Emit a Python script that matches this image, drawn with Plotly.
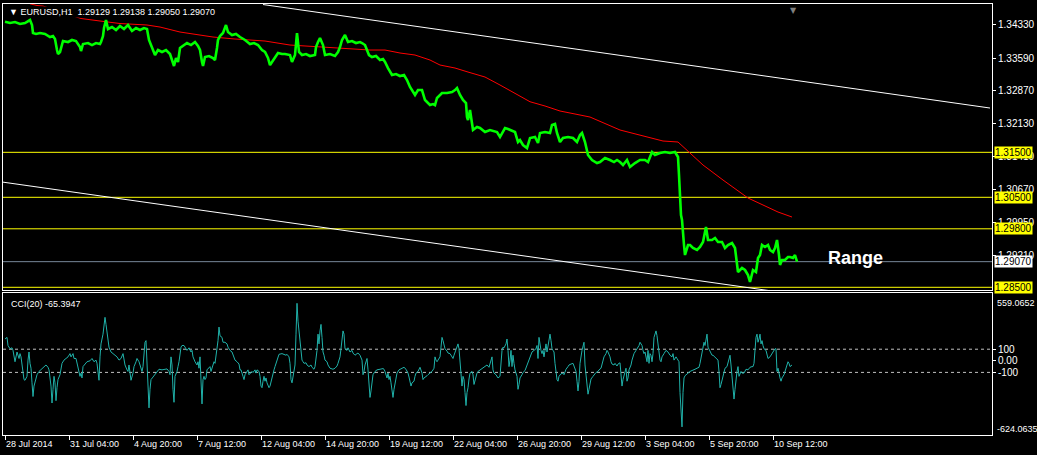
import plotly.graph_objects as go

FONT = "Liberation Sans"

# ---------------- data (bar index = hourly bar number from 28 Jul 2014) ----------------
price_bars = [0, 5, 10, 15, 20, 23, 25, 27, 28, 31, 35, 40, 45, 48, 50, 52, 53, 55, 57, 58, 63, 67, 71, 75, 76, 78,
              83, 87, 91, 95, 96, 98, 99, 101, 103, 107, 111, 115, 119, 123, 127, 131, 135, 139, 142, 144, 146, 148,
              150, 153, 157, 161, 165, 167, 169, 171, 173, 175, 178, 182, 186, 190, 193, 195, 197, 198, 200, 204, 208,
              210, 212, 213, 215, 218, 221, 223, 227, 231, 235, 240, 245, 249, 253, 257, 260, 263, 265, 268, 270, 273,
              277, 280, 285, 287, 290, 292, 294, 297, 301, 305, 310, 311, 313, 315, 318, 320, 325, 330, 333, 335, 337,
              340, 343, 347, 351, 355, 357, 360, 364, 367, 371, 375, 378, 380, 383, 385, 387, 391, 395, 399, 402, 405,
              408, 410, 413, 417, 420, 423, 425, 428, 430, 432, 435, 437, 442, 447, 450, 452, 455, 458, 461, 462, 463,
              465, 468, 472, 475, 480, 485, 489, 492, 495, 498, 500, 503, 505, 508, 510, 513, 515, 518, 522, 525, 528,
              530, 533, 535, 540, 545, 547, 550, 552, 555, 558, 563, 568, 572, 575, 577, 580, 583, 587, 592, 595, 600,
              605, 609, 612, 615, 618, 622, 625, 630, 635, 640, 643, 647, 650, 655, 660, 665, 670, 673, 674, 675, 676,
              677, 678, 679, 680, 683, 685, 688, 692, 695, 698, 700, 701, 703, 707, 710, 713, 717, 720, 723, 727, 730,
              732, 733, 735, 737, 740, 743, 745, 746, 748, 751, 753, 755, 757, 760, 763, 765, 768, 770, 772, 774, 775,
              777, 780, 783, 785, 788, 790, 792]
price_close = [1.34402, 1.34373, 1.34396, 1.34351, 1.34373, 1.34418, 1.34440, 1.34329, 1.34151, 1.34129, 1.34151,
               1.34129, 1.34062, 1.34084, 1.34018, 1.33773, 1.33684, 1.33729, 1.33884, 1.33973, 1.33951, 1.33996,
               1.33973, 1.33840, 1.33751, 1.33907, 1.33929, 1.33884, 1.33929, 1.33907, 1.33951, 1.34084, 1.34262,
               1.34440, 1.34240, 1.34284, 1.34218, 1.34307, 1.34240, 1.34329, 1.34196, 1.34262, 1.34218, 1.34262,
               1.34240, 1.33996, 1.33884, 1.33773, 1.33662, 1.33773, 1.33729, 1.33773, 1.33684, 1.33551, 1.33418,
               1.33596, 1.33507, 1.33818, 1.33862, 1.33929, 1.33884, 1.33951, 1.33862, 1.33773, 1.33507, 1.33418,
               1.33618, 1.33640, 1.33596, 1.33551, 1.33818, 1.33996, 1.34084, 1.34151, 1.34329, 1.34173, 1.34107,
               1.34129, 1.34062, 1.33996, 1.33907, 1.33929, 1.33884, 1.33773, 1.33729, 1.33596, 1.33440, 1.33551,
               1.33596, 1.33707, 1.33684, 1.33684, 1.33662, 1.33507, 1.33662, 1.34151, 1.33729, 1.33662, 1.33684,
               1.33640, 1.33662, 1.33840, 1.33951, 1.34040, 1.33884, 1.33662, 1.33684, 1.33640, 1.33729, 1.33840,
               1.33996, 1.34107, 1.33951, 1.33973, 1.33929, 1.33951, 1.33929, 1.33884, 1.33662, 1.33618, 1.33640,
               1.33551, 1.33573, 1.33507, 1.33373, 1.33284, 1.33218, 1.33240, 1.33196, 1.33218, 1.33107, 1.32951,
               1.32840, 1.32773, 1.32884, 1.32884, 1.32662, 1.32596, 1.32551, 1.32573, 1.32551, 1.32707, 1.32773,
               1.32818, 1.32818, 1.32840, 1.32884, 1.32929, 1.32773, 1.32662, 1.32596, 1.32284, 1.32218, 1.32440,
               1.31996, 1.32062, 1.32040, 1.31951, 1.31996, 1.31973, 1.31951, 1.31840, 1.31951, 1.32040, 1.32018,
               1.31996, 1.31973, 1.31951, 1.31729, 1.31773, 1.31662, 1.31596, 1.31818, 1.31840, 1.31840, 1.31707,
               1.31929, 1.31951, 1.31929, 1.32107, 1.32129, 1.31929, 1.31729, 1.31818, 1.31840, 1.31818, 1.31729,
               1.31884, 1.31929, 1.31729, 1.31440, 1.31329, 1.31262, 1.31284, 1.31373, 1.31329, 1.31284, 1.31329,
               1.31284, 1.31218, 1.31329, 1.31173, 1.31262, 1.31329, 1.31329, 1.31284, 1.31507, 1.31440, 1.31484,
               1.31507, 1.31484, 1.31507, 1.31396, 1.30996, 1.30440, 1.30107, 1.29996, 1.29596, 1.29440, 1.29218,
               1.29440, 1.29440, 1.29373, 1.29329, 1.29396, 1.29507, 1.29729, 1.29840, 1.29551, 1.29551, 1.29596,
               1.29507, 1.29507, 1.29373, 1.29440, 1.29484, 1.29373, 1.28996, 1.28840, 1.28884, 1.28929, 1.28884,
               1.28773, 1.28618, 1.28707, 1.28884, 1.28840, 1.29151, 1.29218, 1.29440, 1.29396, 1.29440, 1.29329,
               1.29284, 1.29373, 1.29551, 1.29218, 1.28996, 1.29107, 1.29107, 1.29173, 1.29173, 1.29151, 1.29218,
               1.29070]

ma_bars = [25, 32, 38, 76, 95, 115, 142, 155, 175, 195, 208, 230, 260, 285, 315, 340, 365, 380, 395, 410, 425, 435,
           450, 463, 480, 495, 510, 525, 540, 555, 575, 585, 615, 635, 658, 673, 685, 698, 718, 732, 743, 758, 773, 787]
ma_values = [1.34800, 1.34762, 1.34751, 1.34473, 1.34418, 1.34362, 1.34329, 1.34284, 1.34173, 1.34107, 1.34062,
             1.34018, 1.33973, 1.33884, 1.33840, 1.33818, 1.33773, 1.33773, 1.33707, 1.33662, 1.33551, 1.33440,
             1.33373, 1.33284, 1.33173, 1.32996, 1.32818, 1.32624, 1.32529, 1.32418, 1.32329, 1.32284, 1.31996,
             1.31884, 1.31751, 1.31729, 1.31484, 1.31218, 1.30884, 1.30662, 1.30484, 1.30329, 1.30173, 1.30062]

cci_bars = [0, 2, 3, 5, 7, 8, 10, 11, 12, 14, 15, 16, 17, 18, 19, 20, 22, 23, 24, 25, 26, 27, 28, 29, 30, 32, 34, 36,
            38, 41, 43, 44, 46, 47, 48, 49, 50, 51, 52, 53, 55, 56, 57, 59, 61, 63, 65, 66, 68, 69, 71, 72, 74, 75, 76,
            77, 78, 80, 82, 85, 87, 89, 91, 92, 93, 94, 95, 96, 98, 99, 100, 101, 102, 104, 106, 108, 110, 112, 114,
            116, 118, 119, 120, 122, 123, 124, 125, 126, 128, 129, 131, 132, 134, 135, 137, 138, 140, 141, 142, 143,
            144, 145, 146, 148, 150, 152, 154, 157, 159, 162, 164, 165, 166, 167, 168, 169, 170, 172, 173, 174, 176,
            177, 179, 181, 182, 184, 186, 187, 188, 190, 192, 193, 194, 195, 196, 197, 198, 199, 200, 201, 202, 204,
            205, 206, 208, 209, 210, 212, 213, 214, 215, 217, 218, 220, 222, 223, 225, 227, 228, 230, 232, 234, 235,
            236, 238, 239, 240, 242, 243, 244, 246, 247, 248, 250, 251, 252, 254, 255, 256, 257, 258, 259, 260, 261,
            262, 264, 265, 266, 268, 269, 270, 272, 273, 274, 277, 279, 281, 282, 284, 285, 286, 287, 288, 290, 291,
            292, 293, 294, 295, 296, 297, 298, 299, 301, 302, 304, 306, 307, 309, 310, 312, 313, 314, 315, 316, 317,
            318, 319, 320, 322, 323, 325, 327, 328, 330, 332, 333, 335, 336, 337, 338, 339, 340, 342, 343, 345, 347,
            348, 350, 352, 353, 355, 357, 358, 359, 360, 362, 363, 364, 365, 366, 367, 368, 370, 372, 375, 378, 379,
            380, 382, 383, 384, 385, 386, 387, 388, 389, 390, 391, 392, 394, 395, 397, 399, 401, 403, 404, 406, 407,
            409, 410, 411, 413, 414, 415, 417, 418, 419, 421, 422, 423, 425, 427, 429, 430, 431, 432, 433, 435, 436,
            437, 438, 439, 440, 442, 443, 445, 447, 448, 449, 451, 452, 453, 454, 455, 456, 457, 458, 459, 460, 461,
            462, 463, 464, 465, 467, 468, 469, 470, 472, 473, 475, 477, 479, 482, 484, 486, 487, 488, 489, 491, 493,
            495, 496, 497, 498, 499, 501, 502, 503, 504, 505, 506, 507, 508, 509, 510, 512, 513, 514, 515, 517, 518,
            520, 522, 524, 526, 527, 529, 531, 532, 533, 534, 535, 536, 537, 538, 539, 540, 541, 542, 544, 545, 546,
            547, 548, 549, 550, 551, 552, 553, 554, 556, 558, 559, 561, 563, 564, 566, 568, 569, 571, 572, 573, 574,
            575, 577, 578, 579, 580, 581, 582, 583, 584, 585, 586, 588, 589, 591, 593, 594, 596, 598, 599, 601, 602,
            603, 605, 606, 607, 609, 610, 612, 613, 615, 617, 618, 619, 620, 621, 622, 623, 624, 626, 627, 629, 631,
            632, 634, 635, 637, 638, 639, 640, 642, 643, 644, 645, 646, 647, 648, 649, 650, 651, 652, 653, 654, 655,
            656, 657, 659, 660, 661, 663, 664, 665, 667, 668, 669, 671, 672, 673, 674, 675, 676, 677, 678, 679, 680,
            682, 683, 685, 687, 688, 690, 692, 694, 695, 696, 697, 698, 699, 700, 701, 702, 703, 705, 707, 708, 710,
            711, 713, 714, 715, 716, 717, 719, 720, 722, 723, 724, 725, 726, 727, 728, 729, 730, 731, 732, 733, 734,
            736, 737, 739, 740, 741, 743, 744, 745, 747, 748, 749, 750, 751, 752, 753, 754, 755, 756, 757, 758, 759,
            761, 762, 763, 765, 766, 768, 769, 770, 771, 772, 773, 774, 775, 776, 777, 779, 780, 781, 782, 783, 784,
            785, 787]
cci_values = [188, 202, 132, 104, 112, 90, -8, 48, 76, 20, 62, 34, -36, -120, -162, -168, -134, 6, 76, -22, -64, -190,
              -308, -218, -176, -120, -92, -78, -56, -36, -56, -78, -218, -364, -246, -134, -190, -344, -232, -162,
              -120, -78, -22, 6, 20, 34, 62, 34, 62, 20, 20, -22, -92, -134, -106, -148, -50, -28, -8, 0, 20, -8, 6,
              -22, -106, -168, 34, 146, 230, 314, 375, 314, 230, 118, 76, 62, 48, 34, 6, 20, 62, -8, -36, -78, -92,
              -36, -106, -168, -106, -50, -8, 20, -8, -36, -92, -50, 160, 174, -22, -246, -406, -246, -162, -140,
              -120, -92, -73, -78, -73, -70, -92, -120, 34, -36, -246, -358, -134, -92, -50, -8, 118, 132, 132, 104,
              90, 112, 76, 90, 34, -8, -36, -8, -64, 34, -134, -372, -162, -134, -162, -148, -78, -64, -50, -92, -36,
              -8, -22, 90, 174, 291, 216, 202, 160, 160, 146, 118, 90, 76, 48, 6, -8, -28, -78, -78, -134, -162,
              -120, -92, -78, -120, -106, -92, -101, -78, -106, -78, -92, -134, -218, -232, -176, -134, -176, -148,
              -190, -232, -218, -176, -120, -78, -50, 6, 34, 56, 62, 56, 48, 56, 34, -22, -162, -190, -148, -36, 230,
              496, 342, 258, 118, 34, 6, -8, -22, -17, -36, -50, -36, -56, -73, -50, 90, 230, 146, 258, 314, 202, 76,
              48, 6, -8, -36, -64, -73, -73, -64, -45, -22, 34, 104, 174, 258, 230, 104, 90, 112, 76, 90, 67, 48, 62,
              67, 48, 6, -120, -92, -36, 20, -78, -218, -316, -260, -190, -120, -92, -78, -73, -67, -73, -92, -148,
              -106, -162, -134, -190, -246, -316, -246, -190, -148, -106, -78, -73, -64, -56, -73, -106, -140, -218,
              -190, -176, -134, -106, -92, -78, -56, -106, -162, -148, -140, -129, -120, -106, -92, -64, 34, 6, -8, 6,
              34, 118, 202, 174, 132, 104, 84, 67, 62, 34, 20, 48, 90, 118, 146, 104, -22, -120, -218, -134, -162,
              -274, -386, -274, -232, -157, -106, -92, -120, -204, -162, -106, -92, -78, -64, -56, -36, -56, -8, 34,
              -78, -106, -120, -148, -134, -8, 90, 118, 112, 146, 188, 90, -50, 6, 90, -50, 48, -22, -78, -134, -246,
              -204, -148, -120, -101, -84, -36, 6, 48, 76, 90, 104, 132, 20, 202, 132, 90, 62, 90, 34, 104, 146, 76,
              174, 230, 174, 104, 90, 76, -22, -106, -162, -176, -134, -112, -106, -120, -73, -50, -36, -28, -22, -45,
              -92, -176, -260, -176, -22, 90, 132, 160, -36, -134, -218, -288, -246, -190, -157, -134, -120, -101,
              -92, -78, -64, -8, 34, 62, 90, 76, 34, -8, -28, -36, -22, -45, -28, -17, -218, -162, -120, -106, -64,
              -176, -148, -78, -36, 6, 62, 90, 104, 132, 160, 132, 90, 62, 76, -8, 90, -22, 62, 48, -8, 62, 202, 244,
              258, 216, 132, 62, 6, -8, 34, 62, 84, 90, 76, 62, 48, 34, 62, 6, 34, 20, 6, -8, -274, -414, -570, -274,
              -148, -129, -112, -101, -92, -84, -78, -73, -64, -56, -22, 34, 90, 132, 160, 132, 202, 230, 118, 76, 48,
              48, 34, 20, 6, -92, -232, -204, -162, -92, -64, -50, -8, 34, 48, -36, -134, -232, -330, -246, -148, -92,
              -50, -134, -92, -106, -106, -92, -73, -78, -64, -56, -50, -50, -22, 118, 202, 230, 160, 188, 230, 146,
              174, 132, 104, 90, 62, 20, 34, 48, 76, 90, 104, 104, -92, -64, -120, -148, -176, -148, -120, -92, -64,
              -22, -8, -22, -50, -36, -65.3947]

tick_bars = [0, 64, 128, 192, 256, 320, 384, 448, 512, 576, 640, 704, 768]
tick_labels = ["28 Jul 2014", "31 Jul 04:00", "4 Aug 20:00", "7 Aug 12:00", "12 Aug 04:00", "14 Aug 20:00",
               "19 Aug 12:00", "22 Aug 04:00", "26 Aug 20:00", "29 Aug 12:00", "3 Sep 04:00", "5 Sep 20:00",
               "10 Sep 12:00"]
price_ticks = [1.34330, 1.33590, 1.32870, 1.32130, 1.31410, 1.30670, 1.29950, 1.29210]
yellow_levels = [1.31500, 1.30500, 1.29800, 1.28500]
bid_level = 1.29070
upper_tl_bars = [258, 985]
upper_tl_prices = [1.34784, 1.32484]
lower_tl_bars = [-2, 765]
lower_tl_prices = [1.30837, 1.28424]
cci_levels = [100, -100]
cci_max_label = "559.0652"
cci_min_label = "-624.0635"

# ---------------- figure ----------------
fig = go.Figure()

fig.add_trace(go.Scatter(x=upper_tl_bars, y=upper_tl_prices, mode="lines",
                         line=dict(color="white", width=1), xaxis="x", yaxis="y", hoverinfo="skip"))
fig.add_trace(go.Scatter(x=lower_tl_bars, y=lower_tl_prices, mode="lines",
                         line=dict(color="white", width=1), xaxis="x", yaxis="y", hoverinfo="skip"))
fig.add_trace(go.Scatter(x=ma_bars, y=ma_values, mode="lines", line=dict(color="#FF0000", width=1),
                         xaxis="x", yaxis="y"))
fig.add_trace(go.Scatter(x=price_bars, y=price_close, mode="lines", line=dict(color="#00FF00", width=2.6),
                         xaxis="x", yaxis="y"))
fig.add_trace(go.Scatter(x=cci_bars, y=cci_values, mode="lines", line=dict(color="#20B2AA", width=1),
                         xaxis="x2", yaxis="y2"))

shapes = []
for lv in yellow_levels:
    shapes.append(dict(type="line", xref="x domain", yref="y", x0=0, x1=1, y0=lv, y1=lv,
                       line=dict(color="#FFFF00", width=1), layer="below"))
shapes.append(dict(type="line", xref="x domain", yref="y", x0=0, x1=1, y0=bid_level, y1=bid_level,
                   line=dict(color="#778899", width=1), layer="below"))
for lv in cci_levels:
    shapes.append(dict(type="line", xref="x2 domain", yref="y2", x0=0, x1=1, y0=lv, y1=lv,
                       line=dict(color="#C0C0C0", width=1, dash="3px,3px"), layer="below"))

annotations = [
    dict(text="▼ EURUSD,H1  1.29129 1.29138 1.29050 1.29070", xref="paper", yref="paper", x=0, y=1,
         xanchor="left", yanchor="top", xshift=5, yshift=-2, showarrow=False, bgcolor="black", borderpad=0,
         font=dict(family=FONT, size=9, color="white")),
    dict(text="CCI(20) -65.3947", xref="paper", yref="y2 domain", x=0, y=1, xanchor="left", yanchor="top",
         xshift=6, yshift=-4, showarrow=False, font=dict(family=FONT, size=9, color="white")),
    dict(text="<b>Range</b>", xref="x", yref="y", x=821, y=1.29151, xanchor="left", yanchor="middle",
         showarrow=False, font=dict(family=FONT, size=18, color="white")),
    dict(text=cci_max_label, xref="paper", yref="y2 domain", x=1, y=0.93, xanchor="left", yanchor="middle",
         xshift=3, showarrow=False, font=dict(family=FONT, size=9, color="white")),
    dict(text=cci_min_label, xref="paper", yref="y2 domain", x=1, y=0.045, xanchor="left", yanchor="middle",
         xshift=3, showarrow=False, font=dict(family=FONT, size=9, color="white")),
    dict(text="▼", xref="x", yref="paper", x=788, y=1, xanchor="center", yanchor="top", showarrow=False,
         font=dict(family="DejaVu Sans", size=8, color="#808080")),
]
for lv in yellow_levels:
    annotations.append(dict(text=f"{lv:.5f}", xref="paper", yref="y", x=1, y=lv, xanchor="left",
                            yanchor="middle", xshift=2, showarrow=False, bgcolor="#FFFF00", borderpad=0,
                            font=dict(family=FONT, size=10, color="black")))
annotations.append(dict(text=f"{bid_level:.5f}", xref="paper", yref="y", x=1, y=bid_level, xanchor="left",
                        yanchor="middle", xshift=2, showarrow=False, bgcolor="white", borderpad=0,
                        font=dict(family=FONT, size=10, color="black")))

axis_common = dict(showgrid=False, zeroline=False, showline=True, mirror=True, linecolor="white", linewidth=1)

fig.update_layout(
    width=1037, height=455,
    margin=dict(l=3, r=45, t=4, b=20),
    paper_bgcolor="black", plot_bgcolor="black",
    showlegend=False,
    xaxis=dict(domain=[0, 1], anchor="y", range=[-2, 987], showticklabels=False, ticks="", matches="x2",
               **axis_common),
    xaxis2=dict(domain=[0, 1], anchor="y2", range=[-2, 987], tickmode="array", tickvals=tick_bars,
                ticktext=tick_labels, ticks="outside", ticklen=4, tickcolor="white",
                ticklabelposition="outside right",
                tickfont=dict(family=FONT, size=9, color="white"), **axis_common),
    yaxis=dict(domain=[0.3364, 1], anchor="x", side="right", range=[1.28440, 1.34796], tickmode="array",
               tickvals=price_ticks, tickformat=".5f", ticks="outside", ticklen=3, tickcolor="white",
               tickfont=dict(family=FONT, size=10, color="white"), automargin=False, **axis_common),
    yaxis2=dict(domain=[0, 0.3295], anchor="x2", side="right", range=[-640, 585], tickmode="array",
                tickvals=[100, 0, -100], ticktext=["100", "0.00", "-100"], ticks="outside", ticklen=3,
                tickcolor="white", tickfont=dict(family=FONT, size=10, color="white"), automargin=False,
                **axis_common),
    shapes=shapes,
    annotations=annotations,
)

fig.write_html(
    "out.html",
    config={"displayModeBar": False},
    post_script="document.body.style.margin='0';document.body.style.padding='0';"
                "document.documentElement.style.background='black';document.body.style.background='black';",
)
